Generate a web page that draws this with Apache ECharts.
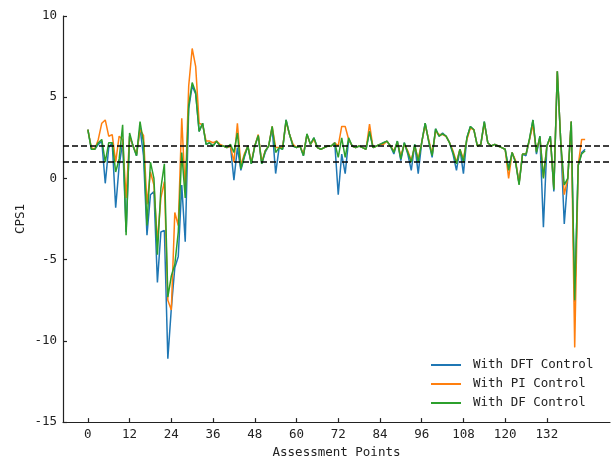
<!DOCTYPE html>
<html>
<head>
<meta charset="utf-8">
<script src="https://cdn.jsdelivr.net/npm/echarts@6/dist/echarts.min.js"></script>
<style>html,body{margin:0;padding:0;background:#fff;}#c{width:616px;height:464px;}</style>
</head>
<body>
<div id="c"></div>
<script>
var SERIES_NAMES = ['With DFT Control', 'With PI Control', 'With DF Control'];
var X_TICKS = [0, 12, 24, 36, 48, 60, 72, 84, 96, 108, 120, 132];
var Y_TICKS = [-15, -10, -5, 0, 5, 10];
var DASH_LEVELS = [2, 1];

var DFT = [3.0,1.8,1.8,2.1,2.3,-0.3,1.9,2.2,-1.8,0.8,2.2,-3.3,2.6,2.0,1.4,3.1,1.4,-3.5,-1.0,-0.8,
-6.4,-3.3,-3.2,-11.1,-8.0,-5.5,-4.8,-0.4,-3.9,4.3,5.7,5.2,2.9,3.4,2.1,2.2,2.0,2.3,2.0,2.0,
1.9,2.0,-0.1,1.9,0.5,1.3,2.0,0.9,2.0,2.6,0.9,1.6,2.0,3.1,0.3,1.9,1.8,3.6,2.7,2.0,
1.9,2.0,1.4,2.7,2.1,2.5,1.9,1.8,1.9,2.0,2.0,2.2,-1.0,1.5,0.3,2.4,2.0,1.9,2.0,1.9,
1.8,2.9,1.9,2.0,2.1,2.2,2.3,2.0,1.5,2.3,1.1,2.2,1.5,0.5,2.1,0.3,2.2,3.4,2.3,1.3,
3.05,2.6,2.8,2.6,2.2,1.5,0.5,1.8,0.3,2.5,3.2,3.0,2.0,2.1,3.5,2.2,2.0,2.1,2.0,1.9,
1.8,0.6,1.6,1.0,-0.3,1.5,1.4,2.4,3.6,1.5,2.6,-3.0,2.0,2.6,-0.8,6.6,2.2,-2.8,0.0,3.5,
-7.6,0.8,1.6,1.8];

var PI = [3.0,1.9,1.8,2.4,3.4,3.6,2.6,2.7,1.0,2.6,2.4,-1.2,2.6,2.0,1.5,3.0,2.65,-1.6,0.4,-0.4,
-3.9,-1.2,-0.2,-7.5,-8.1,-2.1,-2.9,3.7,-0.8,5.7,8.0,6.9,3.4,3.3,2.3,2.3,2.2,2.3,2.1,2.0,
1.9,2.0,1.0,3.4,0.8,1.5,2.0,1.0,2.0,2.7,1.0,1.7,2.0,3.2,1.9,1.9,1.9,3.5,2.7,2.1,
1.9,2.0,1.5,2.7,2.1,2.4,1.9,1.8,1.9,2.0,2.0,2.2,2.0,3.2,3.2,2.4,2.0,1.9,2.0,1.9,
1.8,3.35,1.9,2.0,2.1,2.1,2.3,2.0,1.7,2.2,1.4,2.1,1.7,1.1,2.0,1.2,2.2,3.3,2.4,1.5,
2.9,2.7,2.7,2.6,2.2,1.7,1.0,1.8,1.2,2.4,3.1,3.0,2.0,2.1,3.4,2.2,2.0,2.1,2.0,1.9,
1.8,0.0,1.6,1.1,-0.3,1.5,1.5,2.4,3.3,1.7,2.5,0.1,2.0,2.5,-0.6,6.6,2.2,-1.0,0.0,3.5,
-10.4,0.8,2.4,2.4];

var DF = [3.0,1.8,1.8,2.2,2.4,1.0,2.2,2.2,0.4,1.2,3.3,-3.5,2.8,2.0,1.4,3.5,2.2,-2.9,1.0,0.0,
-4.7,-0.6,0.9,-7.3,-6.0,-5.3,-3.3,1.6,-1.2,4.5,5.9,5.3,2.9,3.4,2.1,2.2,2.0,2.3,2.0,2.0,
1.9,2.1,1.6,2.8,0.6,1.4,2.0,0.9,2.0,2.65,0.9,1.7,2.0,3.2,1.6,1.9,1.8,3.6,2.7,2.0,
1.9,2.0,1.4,2.75,2.1,2.5,1.9,1.8,1.9,2.0,2.0,2.2,1.3,2.5,1.3,2.5,2.0,1.9,2.0,1.9,
1.8,2.9,1.9,2.0,2.1,2.2,2.3,2.0,1.6,2.3,1.2,2.2,1.6,1.0,2.1,1.0,2.2,3.4,2.3,1.4,
3.05,2.6,2.75,2.6,2.2,1.6,0.9,1.8,1.0,2.5,3.2,3.0,2.0,2.1,3.5,2.2,2.0,2.1,2.0,1.9,
1.8,0.5,1.6,1.0,-0.4,1.5,1.5,2.45,3.6,1.6,2.6,0.0,2.0,2.6,-0.7,6.6,2.2,-0.4,0.0,3.5,
-7.5,0.8,1.5,1.7];

var COLORS = ['#1f77b4', '#ff7f0e', '#2ca02c'];
var FONT = 'DejaVu Sans Mono';

function pairs(arr) {
  return arr.map(function (v, i) { return [i, v]; });
}

var chart = echarts.init(document.getElementById('c'), null, {renderer: 'canvas'});
var all = [DFT, PI, DF];
var series = all.map(function (arr, k) {
  var s = {
    name: SERIES_NAMES[k],
    type: 'line',
    data: pairs(arr),
    showSymbol: false,
    symbol: 'none',
    lineStyle: {color: COLORS[k], width: 1.5},
    itemStyle: {color: COLORS[k]},
    z: 2 + k,
    animation: false
  };
  if (k === 2) {
    s.markLine = {
      silent: true,
      symbol: ['none', 'none'],
      label: {show: false},
      lineStyle: {color: '#000', type: [6, 3], width: 1.5},
      data: DASH_LEVELS.map(function (y) { return {yAxis: y}; }),
      animation: false
    };
  }
  return s;
});

chart.setOption({
  animation: false,
  backgroundColor: '#fff',
  grid: {left: 63, top: 16, right: 6, bottom: 39, containLabel: false},
  legend: {
    orient: 'vertical',
    left: 426,
    top: 353,
    itemWidth: 30,
    itemHeight: 2,
    itemGap: 5,
    icon: 'rect',
    data: SERIES_NAMES,
    textStyle: {fontFamily: FONT, fontSize: 12.5, color: '#222', lineHeight: 14, padding: [0, 0, 0, 7]}
  },
  xAxis: {
    type: 'value',
    min: -7.15,
    max: 150.15,
    name: 'Assessment Points',
    nameLocation: 'middle',
    nameGap: 22,
    nameTextStyle: {fontFamily: FONT, fontSize: 12.5, color: '#222'},
    axisLine: {show: true, onZero: false, lineStyle: {color: '#222', width: 1.2}},
    axisTick: {show: true, inside: true, length: 4, customValues: X_TICKS, lineStyle: {color: '#222', width: 1.2}},
    axisLabel: {customValues: X_TICKS, margin: 6, fontFamily: FONT, fontSize: 12.5, color: '#222'},
    splitLine: {show: false}
  },
  yAxis: {
    type: 'value',
    min: -15,
    max: 10,
    interval: 5,
    name: 'CPS1',
    nameLocation: 'middle',
    nameGap: 36,
    nameMoveOverlap: false,
    nameRotate: 90,
    nameTextStyle: {fontFamily: FONT, fontSize: 12.5, color: '#222'},
    axisLine: {show: true, onZero: false, lineStyle: {color: '#222', width: 1.2}},
    axisTick: {show: true, inside: true, length: 4, customValues: Y_TICKS, lineStyle: {color: '#222', width: 1.2}},
    axisLabel: {customValues: Y_TICKS, margin: 6, fontFamily: FONT, fontSize: 12.5, color: '#222'},
    splitLine: {show: false}
  },
  series: series
});
</script>
</body>
</html>
